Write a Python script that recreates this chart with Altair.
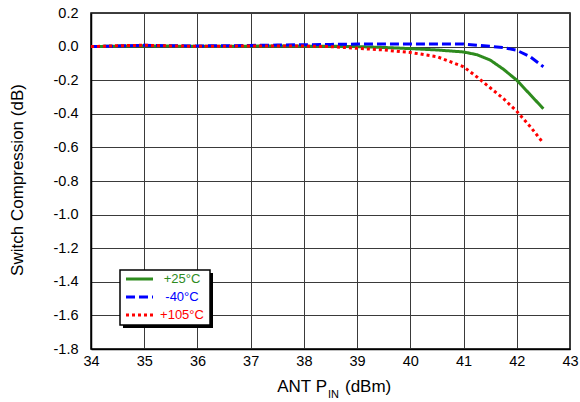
import altair as alt
import pandas as pd

# ANT input power sweep (dBm)
p_in = [34, 34.5, 35, 35.5, 36, 36.5, 37, 37.5, 38, 38.5, 39, 39.5,
        40, 40.5, 41, 41.25, 41.5, 41.75, 42, 42.25, 42.5]

# Switch compression (dB) per temperature
comp_25 = [0.0, 0.003, 0.005, 0.003, 0.002, 0.002, 0.003, 0.003, 0.003, 0.002, 0.0, -0.005,
           -0.012, -0.02, -0.032, -0.048, -0.08, -0.135, -0.20, -0.285, -0.37]
comp_m40 = [0.0, 0.003, 0.008, 0.005, 0.004, 0.005, 0.007, 0.009, 0.011, 0.013, 0.015, 0.016,
            0.016, 0.015, 0.015, 0.008, 0.002, -0.006, -0.022, -0.06, -0.12]
comp_105 = [0.0, 0.005, 0.008, 0.004, 0.002, 0.002, 0.004, 0.004, 0.003, 0.0, -0.01, -0.02,
            -0.035, -0.06, -0.12, -0.18, -0.245, -0.31, -0.385, -0.475, -0.575]

series_names = ["+25°C", "-40°C", "+105°C"]
series_colors = ["#2e8b1e", "#0000ff", "#ff0000"]
series_dash = [[1, 0], [9, 4], [3, 3]]

x_ticks = [34, 35, 36, 37, 38, 39, 40, 41, 42, 43]
y_ticks = [0.2, 0.0, -0.2, -0.4, -0.6, -0.8, -1.0, -1.2, -1.4, -1.6, -1.8]

rows = []
for name, vals in zip(series_names, [comp_25, comp_m40, comp_105]):
    for p, v in zip(p_in, vals):
        rows.append({"pin": p, "comp": v, "series": name})
df = pd.DataFrame(rows)

FONT = "Liberation Sans"
W, H = 479, 336
GRID = "#3a3a3a"

x_enc = alt.X("pin:Q", scale=alt.Scale(domain=[34, 43], nice=False, zero=False),
              axis=alt.Axis(values=x_ticks, title=None, format="d", labelFontSize=14.5,
                            labelPadding=5, ticks=False, grid=True, labelFlush=False,
                            gridColor=GRID, gridWidth=1, gridOpacity=1,
                            domainColor="black", domainWidth=1.5,
                            labelFont=FONT, labelColor="black"))
y_enc = alt.Y("comp:Q", scale=alt.Scale(domain=[-1.8, 0.2], nice=False, zero=False),
              axis=alt.Axis(values=y_ticks, title=None, labelFontSize=14.5, labelPadding=13,
                            ticks=False, grid=True, labelFlush=False,
                            gridColor=GRID, gridWidth=1, gridOpacity=1,
                            domainColor="black", domainWidth=1.5,
                            labelFont=FONT, labelColor="black",
                            labelExpr="replace(format(datum.value, '.1f'), '\u2212', '-')"))

lines = alt.Chart(df).mark_line(strokeWidth=3, clip=True).encode(
    x=x_enc,
    y=y_enc,
    color=alt.Color("series:N", scale=alt.Scale(domain=series_names, range=series_colors), legend=None),
    strokeDash=alt.StrokeDash("series:N", scale=alt.Scale(domain=series_names, range=series_dash), legend=None),
    order=alt.Order("pin:Q"),
)

one = alt.Data(values=[{"k": 1}])

# legend box with drop shadow
shadow = alt.Chart(one).mark_rect(color="black").encode(
    x=alt.value(32), x2=alt.value(122), y=alt.value(260), y2=alt.value(315))
box = alt.Chart(one).mark_rect(fill="white", stroke="black", strokeWidth=1.5).encode(
    x=alt.value(29), x2=alt.value(119), y=alt.value(257), y2=alt.value(312))

legend_layers = [shadow, box]
row_y = [266, 284, 302]
for name, col, dash, ry in zip(series_names, series_colors, series_dash, row_y):
    legend_layers.append(
        alt.Chart(one).mark_rule(color=col, strokeWidth=3, strokeDash=dash).encode(
            x=alt.value(35), x2=alt.value(62), y=alt.value(ry)))
    legend_layers.append(
        alt.Chart(one).mark_text(text=name, color=col, font=FONT, fontSize=13,
                                 align="center", baseline="middle").encode(
            x=alt.value(91), y=alt.value(ry)))

# axis titles
y_title = alt.Chart(one).mark_text(text="Switch Compression (dB)", font=FONT, fontSize=17,
                                   angle=270, align="center", baseline="middle").encode(
    x=alt.value(-73), y=alt.value(167))
x_title_a = alt.Chart(one).mark_text(text="ANT P", font=FONT, fontSize=17,
                                     align="right", baseline="alphabetic").encode(
    x=alt.value(236), y=alt.value(379))
x_title_sub = alt.Chart(one).mark_text(text="IN", font=FONT, fontSize=11,
                                       align="left", baseline="alphabetic").encode(
    x=alt.value(237), y=alt.value(385))
x_title_b = alt.Chart(one).mark_text(text="(dBm)", font=FONT, fontSize=17,
                                     align="left", baseline="alphabetic").encode(
    x=alt.value(254), y=alt.value(379))

chart = alt.layer(
    lines, *legend_layers, y_title, x_title_a, x_title_sub, x_title_b
).properties(
    width=W, height=H,
    background="white",
    autosize=alt.AutoSizeParams(type="none"),
    padding={"left": 91, "top": 13, "right": 10, "bottom": 53},
).configure_view(
    stroke="black", strokeWidth=1.5
)

chart.save("out.html", embed_options={"renderer": "svg", "actions": False})
